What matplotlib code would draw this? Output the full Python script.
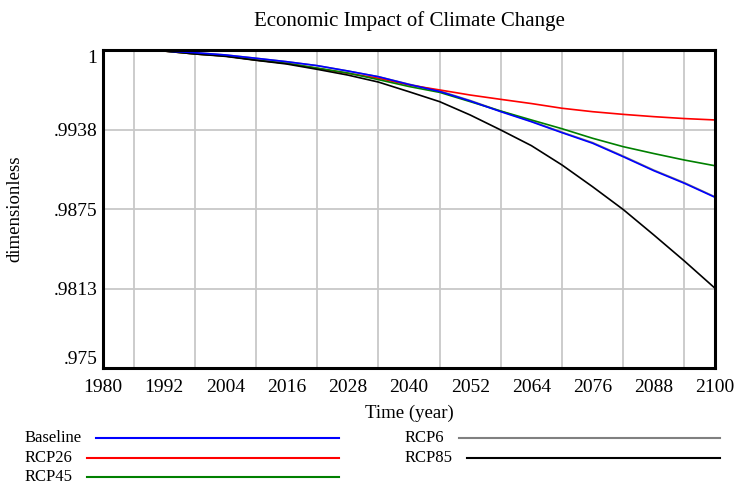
import matplotlib
matplotlib.use("Agg")
import matplotlib.pyplot as plt
from matplotlib.lines import Line2D
from matplotlib.ticker import FixedLocator, FixedFormatter

plt.rcParams['font.family'] = ['Liberation Serif', 'DejaVu Serif']

# Данные
years = [1980, 1986, 1992, 1998, 2004, 2010, 2016, 2022, 2028, 2034, 2040,
         2046, 2052, 2058, 2064, 2070, 2076, 2082, 2088, 2094, 2100]

baseline = [1.0, 1.0, 0.99992, 0.99979, 0.99961, 0.99935, 0.99908, 0.99877,
            0.99835, 0.99790, 0.99729, 0.99674, 0.99599, 0.99515, 0.99436,
            0.99350, 0.99267, 0.99161, 0.99051, 0.98952, 0.98842]
rcp26 = [1.0, 1.0, 0.99992, 0.99969, 0.99953, 0.99921, 0.99895, 0.99856,
         0.99817, 0.99778, 0.99725, 0.99686, 0.99646, 0.99612, 0.99579,
         0.99542, 0.99515, 0.99494, 0.99476, 0.99461, 0.99450]
rcp45 = [1.0, 1.0, 0.99992, 0.99969, 0.99953, 0.99921, 0.99895, 0.99858,
         0.99819, 0.99767, 0.99713, 0.99667, 0.99594, 0.99520, 0.99450,
         0.99381, 0.99306, 0.99240, 0.99186, 0.99135, 0.99090]
rcp6 = [1.0, 1.0, 0.99992, 0.99979, 0.99961, 0.99935, 0.99908, 0.99877,
        0.99835, 0.99790, 0.99731, 0.99678, 0.99603, 0.99519, 0.99440,
        0.99354, 0.99272, 0.99166, 0.99056, 0.98957, 0.98846]
rcp85 = [1.0, 1.0, 0.99992, 0.99969, 0.99950, 0.99919, 0.99890, 0.99848,
         0.99803, 0.99748, 0.99672, 0.99594, 0.99489, 0.99371, 0.99248,
         0.99096, 0.98925, 0.98746, 0.98546, 0.98341, 0.98127]

names = ["Baseline", "RCP26", "RCP45", "RCP6", "RCP85"]
series = [baseline, rcp26, rcp45, rcp6, rcp85]
colours = ["#0000ff", "#ff0000", "#008000", "#808080", "#000000"]
zorders = [5, 4, 4, 3, 4]

yticks = [1.0, 0.99375, 0.9875, 0.98125, 0.975]
ylabels = ["1", ".9938", ".9875", ".9813", ".975"]
xticks = [1980, 1992, 2004, 2016, 2028, 2040, 2052, 2064, 2076, 2088, 2100]

W, H = 737, 488
fig = plt.figure(figsize=(W / 100, H / 100), dpi=100)
ax = fig.add_axes([103/W, 120/H, 612/W, 318/H])

lines = []
for name, s, c, z in zip(names, series, colours, zorders):
    ln, = ax.plot(years, s, color=c, lw=1.2, zorder=z, label=name)
    lines.append(ln)

ax.set_xlim(1980, 2100)
ax.set_ylim(0.975, 1.0)

# Сетка: вертикальные линии каждые 6 лет, подписи каждые 12
ax.xaxis.set_major_locator(FixedLocator(xticks))
ax.xaxis.set_minor_locator(FixedLocator(years))
ax.yaxis.set_major_locator(FixedLocator(yticks))
ax.yaxis.set_major_formatter(FixedFormatter(ylabels))
ax.grid(True, which='minor', axis='x', color='#c8c8c8', lw=1.3)
ax.grid(True, which='major', axis='y', color='#c8c8c8', lw=1.3)
ax.set_axisbelow(True)
ax.tick_params(which='both', length=0, labelsize=14)
ax.tick_params(axis='x', pad=8)
ax.tick_params(axis='y', pad=4)

ylbl = ax.get_yticklabels()
ylbl[0].set_verticalalignment('top')
ylbl[-1].set_verticalalignment('bottom')

for sp in ax.spines.values():
    sp.set_linewidth(2.2)
    sp.set_color('black')
    sp.set_zorder(6)

ax.set_title("Economic Impact of Climate Change", fontsize=15, pad=17)
ax.set_xlabel("Time (year)", fontsize=13.5, labelpad=6)
ax.set_ylabel("dimensionless", fontsize=13.5, labelpad=22)

# Легенда в стиле Vensim: подпись слева, линия до общего правого края
renderer = fig.canvas.get_renderer()
leg_cols = [(25, 339), (25, 339), (25, 339), (405, 720), (405, 720)]
leg_rows = [438, 458, 477, 438, 458]
for ln, name, (x0, x1), y in zip(lines, names, leg_cols, leg_rows):
    t = fig.text(x0 / W, 1 - y / H, name, fontsize=12, va='center', ha='left')
    bb = t.get_window_extent(renderer)
    fig.add_artist(Line2D([(bb.x1 + 14) / W, x1 / W], [1 - y / H, 1 - y / H],
                          color=ln.get_color(), lw=1.5,
                          transform=fig.transFigure))

plt.savefig("out.png", dpi=100)
